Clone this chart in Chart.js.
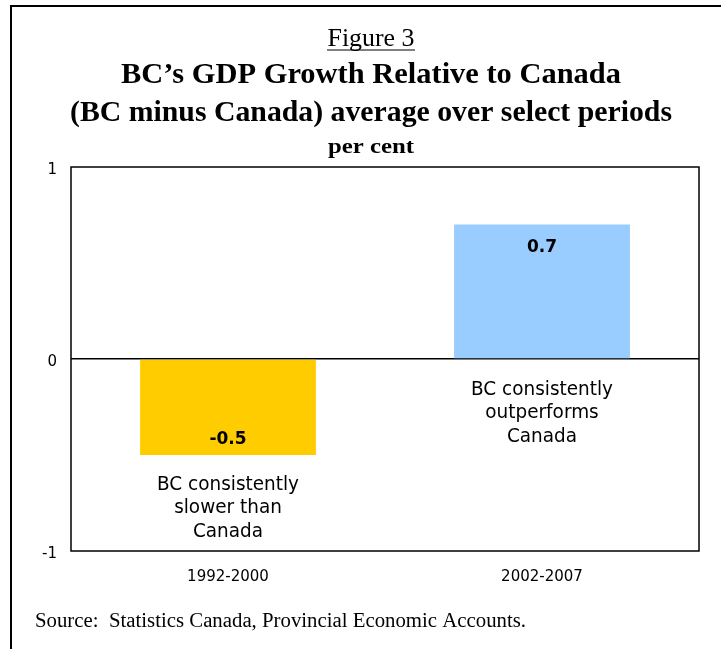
<!DOCTYPE html>
<html>
<head>
<meta charset="utf-8">
<script src="https://cdn.jsdelivr.net/npm/chart.js@4"></script>
<style>
  html, body { margin: 0; padding: 0; background: #fff; }
  #wrap { width: 721px; height: 649px; }
</style>
</head>
<body>
<div id="wrap"><canvas id="myChart" width="721" height="649"></canvas></div>
<script>
'use strict';

// periods and BC-minus-Canada growth gap (percentage points)
let periods = ['1992-2000', '2002-2007'];
let gap = [-0.5, 0.7];
let barColours = ['#FFCC00', '#99CCFF'];
let yTicks = [-1, 0, 1];

// notes written under each bar
let notes = [
  ['BC consistently', 'slower than', 'Canada'],
  ['BC consistently', 'outperforms', 'Canada']
];

const sans = '"DejaVu Sans", Verdana, sans-serif';
const serif = '"Liberation Serif", "DejaVu Serif", serif';

// draw text stretched/squeezed to a given width
function fitText(ctx, text, x, y, width, align) {
  let w = ctx.measureText(text).width;
  let k = width / w;
  ctx.save();
  ctx.translate(x, y);
  ctx.scale(k, 1);
  ctx.textAlign = align || 'center';
  ctx.fillText(text, 0, 0);
  ctx.restore();
}

// frame, titles, value labels and notes
const decorations = {
  id: 'decorations',
  afterDraw(chart) {
    let ctx = chart.ctx;
    let area = chart.chartArea;
    let x = chart.scales.x;
    let y = chart.scales.y;
    ctx.save();

    // outer frame (left and top only)
    ctx.strokeStyle = '#000';
    ctx.lineWidth = 2;
    ctx.beginPath();
    ctx.moveTo(11, 649);
    ctx.lineTo(11, 6);
    ctx.lineTo(721, 6);
    ctx.stroke();

    // plot box
    ctx.lineWidth = 1.5;
    ctx.strokeRect(area.left, area.top, area.right - area.left, area.bottom - area.top);

    // titles
    ctx.fillStyle = '#000';
    ctx.textBaseline = 'alphabetic';
    let cx = 371;
    ctx.font = '25px ' + serif;
    fitText(ctx, 'Figure 3', cx, 46, 87);
    ctx.lineWidth = 1;
    ctx.beginPath();
    ctx.moveTo(cx - 44, 50);
    ctx.lineTo(cx + 44, 50);
    ctx.stroke();

    ctx.font = 'bold 29px ' + serif;
    fitText(ctx, 'BC\u2019s GDP Growth Relative to Canada', cx, 83, 500);
    fitText(ctx, '(BC minus Canada) average over select periods', cx, 121, 602);
    ctx.font = 'bold 22px ' + serif;
    fitText(ctx, 'per cent', cx, 153, 86);

    // value labels inside bars
    let meta = chart.getDatasetMeta(0);
    ctx.textAlign = 'center';
    ctx.font = 'bold 17px ' + sans;
    ctx.textBaseline = 'middle';
    for (let i = 0; i < gap.length; i++) {
      let bar = meta.data[i];
      let ly = gap[i] < 0 ? bar.y - 15 : bar.y + 23;
      ctx.fillText(gap[i].toFixed(1), bar.x, ly);
    }

    // notes
    ctx.font = '19px ' + sans;
    for (let i = 0; i < notes.length; i++) {
      let nx = x.getPixelForValue(i);
      let start = gap[i] < 0 ? y.getPixelForValue(gap[i]) + 30 : y.getPixelForValue(0) + 31;
      for (let j = 0; j < notes[i].length; j++) {
        fitText(ctx, notes[i][j], nx, start + j * 23.5, ctx.measureText(notes[i][j]).width * 0.97);
      }
    }

    // source line
    ctx.textBaseline = 'alphabetic';
    ctx.font = '20px ' + serif;
    fitText(ctx, 'Source:  Statistics Canada, Provincial Economic Accounts.', 35, 627, 491, 'left');

    ctx.restore();
  }
};

const data = {
  labels: periods,
  datasets: [{
    data: gap,
    backgroundColor: barColours,
    borderWidth: 0,
    categoryPercentage: 1,
    barPercentage: 0.56
  }]
};

const config = {
  type: 'bar',
  data: data,
  options: {
    responsive: false,
    animation: false,
    layout: { padding: { left: 30, right: 22, top: 167, bottom: 58 } },
    plugins: {
      legend: { display: false },
      tooltip: { enabled: false }
    },
    scales: {
      x: {
        grid: { display: false },
        border: { display: false },
        ticks: { color: '#000', font: { family: sans, size: 15 }, padding: 9 },
        afterFit(axis) { axis.height = 40; }
      },
      y: {
        min: -1,
        max: 1,
        afterBuildTicks(axis) { axis.ticks = yTicks.map(v => ({ value: v })); },
        grid: {
          drawTicks: false,
          color: ctx => ctx.tick && ctx.tick.value === 0 ? '#000' : 'rgba(0,0,0,0)',
          lineWidth: 1.5
        },
        border: { display: false },
        ticks: { color: '#000', font: { family: sans, size: 15 }, padding: 14, labelOffset: 3 },
        afterFit(axis) { axis.width = 41; }
      }
    }
  },
  plugins: [decorations]
};

const myChart = new Chart(document.getElementById('myChart'), config);
</script>
</body>
</html>
